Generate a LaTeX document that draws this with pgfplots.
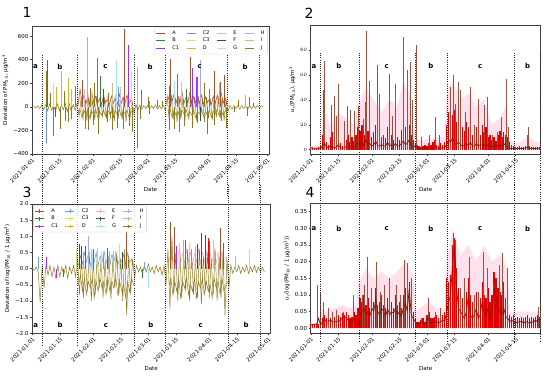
\documentclass[border=0pt]{standalone}
\usepackage{fontspec}
\setmainfont{DejaVu Sans}
\usepackage{pgfplots}
\pgfplotsset{compat=1.18}

\definecolor{cA}{HTML}{A0522D}
\definecolor{cB}{HTML}{3C7A3C}
\definecolor{cCone}{HTML}{9B30FF}
\definecolor{cCtwo}{HTML}{6A9BD0}
\definecolor{cCthree}{HTML}{D4E65A}
\definecolor{cD}{HTML}{DDB020}
\definecolor{cE}{HTML}{F2AFC4}
\definecolor{cF}{HTML}{354F4F}
\definecolor{cG}{HTML}{A8E4EC}
\definecolor{cH}{HTML}{A8A8F0}
\definecolor{cI}{HTML}{C8B88A}
\definecolor{cJ}{HTML}{8E7A1C}
\definecolor{darkline}{HTML}{8B1500}
\definecolor{redfill}{HTML}{E00000}
\definecolor{rosebrown}{HTML}{A0503A}
\definecolor{lightpink}{HTML}{FFE0EC}

\tikzset{
  vl/.style={black!85, line width=0.7pt, dash pattern=on 0.7pt off 1.5pt},
  lab/.style={font=\bfseries\fontsize{7}{7}\selectfont},
}
\pgfplotsset{
  panel/.style={
    scale only axis,
    font=\fontsize{5.5}{6}\selectfont,
    tick label style={font=\fontsize{5.5}{6}\selectfont},
    label style={font=\fontsize{5.5}{6}\selectfont},
    axis line style={black!75, line width=0.6pt},
    tick align=outside,
    major tick length=2pt,
    xtick pos=bottom, ytick pos=left,
    tick style={black!75, line width=0.4pt},
    xtick={0,14,31,45,59,73,90,104,120},
    xticklabels={2021-01-01,2021-01-15,2021-02-01,2021-02-15,2021-03-01,2021-03-15,2021-04-01,2021-04-15,2021-05-01},
    x tick label style={rotate=45, anchor=north east, inner sep=1pt},
    y tick label style={inner sep=1.5pt},
    xlabel={Date},
    xlabel style={yshift=1pt},
    clip=false,
    legend cell align=left,
    legend columns=4,
    legend style={draw=black!20, rounded corners=1.5pt, fill=white, fill opacity=0.85, text opacity=1,
      font=\fontsize{5}{5.5}\selectfont, column sep=5pt, row sep=-1.5pt, inner sep=1pt},
  },
  leg1/.style={legend image code/.code={\draw[##1, line width=0.8pt] (0bp,0bp) -- (9bp,0bp);}},
  leg3/.style={legend image code/.code={\draw[##1, line width=0.8pt] (0bp,0bp) -- (9bp,0bp); \draw[##1, line width=0.4pt] (4.5bp,-1.8bp) -- (4.5bp,1.8bp);}},
  spk/.style={ycomb, line width=0.6pt, forget plot},
  nz/.style={line width=0.5pt, forget plot},
}
\newcommand{\LegAll}{%
 \addlegendimage{cA}\addlegendentry{A}
 \addlegendimage{cCtwo}\addlegendentry{C2}
 \addlegendimage{cE}\addlegendentry{E}
 \addlegendimage{cH}\addlegendentry{H}
 \addlegendimage{cB}\addlegendentry{B}
 \addlegendimage{cCthree}\addlegendentry{C3}
 \addlegendimage{cF}\addlegendentry{F}
 \addlegendimage{cI}\addlegendentry{I}
 \addlegendimage{cCone}\addlegendentry{C1}
 \addlegendimage{cD}\addlegendentry{D}
 \addlegendimage{cG}\addlegendentry{G}
 \addlegendimage{cJ}\addlegendentry{J}}

\begin{document}
\begin{tikzpicture}
\path[use as bounding box] (0,0) rectangle (550bp,-378bp);

% ---------------- Panel 1 ----------------
\begin{axis}[panel, leg1, at={(32bp,-26bp)}, anchor=north west, width=237bp, height=128bp,
  xmin=0, xmax=120.9, ymin=-400, ymax=685,
  ytick={-400,-200,0,200,400,600}, yticklabels={−400,−200,0,200,400,600},
  ylabel={Deviation of PM\textsubscript{2.5}, µg/m\textsuperscript{3}},
  legend style={at={(rel axis cs:0.995,0.99)}, anchor=north east}]
\addplot[nz, cE] coordinates {
(23.5,10)(24.5,90)(25.5,30)(26.5,70)(27.5,20)(28.5,110)(29.5,40)(30.5,60)(31.5,20)(32.5,80)(33.5,30)(34.5,60)(35.5,20)(36.5,70)(37.5,30)(38.5,90)(39.5,20)(40.5,60)(41.5,40)(42.5,100)(43.5,20)(44.5,60)(45.5,30)(46.5,80)(47.5,20)(48.5,70)(49.5,40)(50.5,50)(51.5,10)};
\addplot[nz, cE] coordinates {
(69.5,30)(70.5,80)(71.5,20)(72.5,100)(73.5,40)(74.5,70)(75.5,20)(76.5,90)(77.5,30)(78.5,60)(79.5,20)(80.5,80)(81.5,40)(82.5,70)(83.5,20)(84.5,100)(85.5,30)(86.5,60)(87.5,20)(88.5,90)(89.5,30)(90.5,70)(91.5,20)(92.5,60)(93.5,40)(94.5,80)(95.5,20)(96.5,60)(97.5,30)(98.5,70)(99.5,10)};
\addplot[nz, cJ] coordinates {
(1,5)(2,-10)(3,8)(4,-15)(5,15)(6,-25)(7,20)(8,-35)(9,25)(10,-30)(11,15)(12,-40)(13,25)(14,-35)(15,20)(16,-25)(17,30)(18,-40)(19,25)(20,-35)(21,20)(22,-30)(23,30)
(24,-80)(25,60)(26,-100)(27,70)(28,-120)(29,80)(30,-90)(31,60)(32,-110)(33,90)(34,-130)(35,70)(36,-80)(37,60)(38,-100)(39,80)(40,-90)(41,70)(42,-120)(43,90)(44,-100)(45,60)(46,-110)(47,100)(48,-130)(49,80)(50,-100)(51,60)(52,-60)
(53,20)(54,-30)(55,15)(56,-20)(57,10)(58,-15)(59,12)(60,-20)(61,10)(62,-15)(63,15)(64,-20)(65,10)(66,-15)(67,12)(68,-30)
(69,90)(70,-120)(71,100)(72,-110)(73,80)(74,-130)(75,90)(76,-100)(77,70)(78,-120)(79,90)(80,-110)(81,100)(82,-90)(83,80)(84,-120)(85,90)(86,-100)(87,70)(88,-130)(89,80)(90,-100)(91,60)(92,-110)(93,90)(94,-90)(95,70)(96,-100)(97,80)(98,-120)(99,60)(100,-40)
(101,15)(102,-20)(103,10)(104,-15)(105,12)(106,-20)(107,10)(108,-15)(109,8)(110,-25)(111,10)(112,-15)(113,8)(114,-12)(115,10)(116,-10)(117,8)(118,-5)};
\addplot[nz, cJ] coordinates {
(23.5,-40)(24.5,-20)(25.5,-90)(26.5,-30)(27.5,-70)(28.5,-20)(29.5,-100)(30.5,-40)(31.5,-60)(32.5,-20)(33.5,-90)(34.5,-40)(35.5,-70)(36.5,-30)(37.5,-80)(38.5,-20)(39.5,-60)(40.5,-40)(41.5,-90)(42.5,-30)(43.5,-70)(44.5,-20)(45.5,-80)(46.5,-40)(47.5,-60)(48.5,-30)(49.5,-90)(50.5,-40)(51.5,-30)};
\addplot[nz, cJ] coordinates {
(69.5,-50)(70.5,-20)(71.5,-90)(72.5,-30)(73.5,-70)(74.5,-40)(75.5,-100)(76.5,-30)(77.5,-60)(78.5,-20)(79.5,-80)(80.5,-40)(81.5,-70)(82.5,-30)(83.5,-90)(84.5,-40)(85.5,-60)(86.5,-20)(87.5,-80)(88.5,-40)(89.5,-70)(90.5,-30)(91.5,-90)(92.5,-40)(93.5,-60)(94.5,-20)(95.5,-80)(96.5,-30)(97.5,-70)(98.5,-40)(99.5,-20)};
\addplot[nz, cA] coordinates {
(23.5,20)(24.5,150)(25.5,40)(26.5,100)(27.5,30)(28.5,80)(29.5,20)(30.5,120)(31.5,40)(32.5,90)(33.5,30)(34.5,70)(35.5,20)(36.5,100)(37.5,40)(38.5,60)(39.5,20)(40.5,90)(41.5,30)(42.5,70)(43.5,20)(44.5,110)(45.5,30)(46.5,80)(47.5,40)(48.5,100)(49.5,30)(50.5,60)(51.5,10)};
\addplot[nz, cA] coordinates {
(69.5,60)(70.5,140)(71.5,50)(72.5,110)(73.5,30)(74.5,90)(75.5,40)(76.5,130)(77.5,30)(78.5,80)(79.5,40)(80.5,120)(81.5,30)(82.5,90)(83.5,40)(84.5,70)(85.5,30)(86.5,100)(87.5,20)(88.5,80)(89.5,40)(90.5,60)(91.5,20)(92.5,90)(93.5,30)(94.5,100)(95.5,40)(96.5,120)(97.5,30)(98.5,80)(99.5,10)};
\addplot[spk, cJ] coordinates {(7.5,-310)(11,-250)(14.4,-190)(17,-120)(18.6,-130)(20,-100)(27.2,-190)(28.9,-200)(31.5,-150)(34,-230)(38.3,-130)(40.9,-200)(43.4,-180)(46.8,-190)(49.4,-160)(51,-210)(53.7,-350)(55.4,-100)(60,-60)(69.9,-200)(72.5,-190)(75,-210)(77.6,-160)(81.9,-180)(84.4,-140)(89.5,-230)(93,-150)(96.4,-120)(99,-180)(110,-80)(103,-40)};
\addplot[spk, cJ] coordinates {(7.5,300)(9.2,120)(16.4,130)(22,180)(29.7,160)(31.8,200)(33.2,410)(39.1,120)(69.9,180)(74.2,280)(84.4,250)(87.9,200)(90.4,150)(56,140)(59.5,80)(64,60)(66.5,50)(105,60)(113,30)(111,80)};
\addplot[spk, cA] coordinates {(8,400)(25.5,225)(47.2,660)(70.8,405)(80.7,420)(93,300)(98,270)(96,210)};
\addplot[spk, cB] coordinates {(34.9,260)(78.5,150)(12,-90)};
\addplot[spk, cCone] coordinates {(49.1,520)(81.9,330)(84,250)};
\addplot[spk, cCtwo] coordinates {(7.2,-300)(43.8,170)(60,50)};
\addplot[spk, cCthree] coordinates {(11,200)(50.8,300)(30.5,150)};
\addplot[spk, cD] coordinates {(14.9,300)(12.6,170)(53.7,340)(109,100)(18.6,240)};
\addplot[spk, cE] coordinates {(28,220)(45.1,170)(76,210)(26.5,150)};
\addplot[spk, cF] coordinates {(36.6,150)(86,-120)};
\addplot[spk, cG] coordinates {(43.1,400)(72.5,220)};
\addplot[spk, cH] coordinates {(28.4,590)(85.8,400)};
\addplot[spk, cI] coordinates {(20.3,150)(40.9,200)(95.6,200)};
\LegAll
\pgfplotsinvokeforeach{5.2,22.9,52.1,67.9,99.8,116}{\draw[vl] (axis cs:#1,439) -- (axis cs:#1,-760);}
\node[lab] at (axis cs:1.8,340) {a};
\node[lab] at (axis cs:14.2,340) {b};
\node[lab] at (axis cs:37.5,340) {c};
\node[lab] at (axis cs:60.3,340) {b};
\node[lab] at (axis cs:85.6,340) {c};
\node[lab] at (axis cs:108.7,340) {b};
\end{axis}

% ---------------- Panel 2 ----------------
\begin{axis}[panel, at={(310.7bp,-25bp)}, anchor=north west, width=230bp, height=129.3bp,
  xmin=0, xmax=116.7, ymin=-3.7, ymax=100,
  ytick={0,20,40,60,80},
  ylabel={\textit{u}\textsubscript{\textit{c}}(PM\textsubscript{2.5}), µg/m\textsuperscript{3}}]
\addplot[fill=lightpink, draw=none, forget plot] coordinates {
(0,3)(4,3)(5,10)(7,30)(10,20)(14,30)(18,25)(22,20)(24,35)(28,50)(32,40)(36,30)(40,40)(44,35)(47,55)(50,45)(52,20)(54,8)(60,8)(64,10)(68,10)(69,45)(72,55)(76,40)(80,45)(84,35)(88,40)(92,20)(96,25)(99,35)(101,8)(105,5)(110,10)(116.5,5)} \closedcycle;
\addplot[spk, redfill, line width=1.3pt] coordinates {
(0,1.5)(1,1.5)(2,1.2)(3,1.5)(4,1.8)(5,3)(6,12)(7,18)(8,6)(9,4)(10,10)(11,14)(12,6)(13,8)(14,15)(15,5)(16,3)(17,4)(18,8)(19,12)(20,6)(21,10)(22,7)(23,12)(24,18)(25,15)(26,20)(27,12)(28,25)(29,15)(30,18)(31,10)(32,14)(33,20)(34,12)(35,8)(36,10)(37,12)(38,9)(39,18)(40,10)(41,12)(42,8)(43,14)(44,10)(45,8)(46,16)(47,22)(48,18)(49,15)(50,20)(51,12)(52,8)(53,5)(54,4)(55,3)(56,2)(57,3)(58,4)(59,3)(60,5)(61,4)(62,6)(63,8)(64,4)(65,3)(66,5)(67,4)(68,6)(69,20)(70,30)(71,35)(72,28)(73,32)(74,22)(75,30)(76,25)(77,18)(78,15)(79,22)(80,18)(81,25)(82,12)(83,14)(84,18)(85,16)(86,12)(87,20)(88,14)(89,18)(90,10)(91,12)(92,8)(93,10)(94,7)(95,12)(96,15)(97,10)(98,14)(99,12)(100,10)(101,6)(102,4)(103,3)(104,2)(105,2)(106,3)(107,2)(108,2)(109,3)(110,5)(111,3)(112,2)(113,2)(114,2)(115,2)(116,2)};
\addplot[spk, rosebrown, line width=0.8pt] coordinates {
(6.4,48)(7.2,71)(10.6,36)(11.8,43)(12.8,27)(14,53)(17.3,23)(18.7,35)(20.2,32)(22.4,31)(24,35)(26.6,25)(27.7,38)(28.4,95)(29.6,55)(33.6,68)(34.9,45)(39.7,61)(41.2,27)(43,53)(47.2,90)(48.9,64)(50.6,70)(51.8,40)(53.8,84)(56,10)(60.2,12)(63.2,26)(65.5,12)(71,50)(72.4,60)(73.6,37)(75,54)(76.1,48)(78.7,30)(81.2,50)(82.9,20)(84.9,41)(87.9,36)(89.6,42)(92.1,12)(94.6,14)(96.6,26)(99.2,57)(100.5,18)(109.7,12)(110.6,18)};
\addplot[darkline, line width=0.7pt, forget plot] coordinates {
(0,1.5)(1,1.5)(2,1.2)(3,1.0)(4,1.5)(5,0.8)(6,3)(7,5)(8,2)(9,1.5)(10,3)(11,2)(12,1.5)(13,2)(14,4)(15,1.5)(16,1)(17,1.5)(18,2.5)(19,3)(20,2)(21,2.5)(22,2)(23,3)(24,5)(25,4)(26,6)(27,3)(28,8)(29,4)(30,5)(31,3)(32,4)(33,7)(34,3)(35,3)(36,4)(37,3)(38,3)(39,6)(40,3)(41,4)(42,3)(43,5)(44,3)(45,3)(46,5)(47,7)(48,4)(49,5)(50,8)(51,3)(52,2)(53,3)(54,1.5)(55,1)(56,1)(57,1.5)(58,1.2)(59,1)(60,2)(61,1.5)(62,1)(63,3)(64,1.5)(65,1)(66,1.5)(67,1.2)(68,2)(69,4)(70,8)(71,6)(72,10)(73,5)(74,4)(75,6)(76,4)(77,3)(78,4)(79,5)(80,3)(81,6)(82,3)(83,3)(84,5)(85,3)(86,4)(87,4)(88,3)(89,5)(90,3)(91,3)(92,2)(93,3)(94,2)(95,3)(96,4)(97,3)(98,5)(99,3)(100,2)(101,1)(102,1)(103,0.8)(104,0.8)(105,1)(106,0.8)(107,1)(108,1)(109,1.2)(110,2)(111,1)(112,0.8)(113,1)(114,1)(115,1)(116,1.5)};
\pgfplotsinvokeforeach{4.8,24.8,53,69.3,103.3,116.7}{\draw[vl] (axis cs:#1,77.6) -- (axis cs:#1,-32);}
\node[lab] at (axis cs:1.7,67) {a};
\node[lab] at (axis cs:14.3,67) {b};
\node[lab] at (axis cs:38.5,67) {c};
\node[lab] at (axis cs:61,67) {b};
\node[lab] at (axis cs:86,67) {c};
\node[lab] at (axis cs:110,67) {b};
\end{axis}

% ---------------- Panel 3 ----------------
\begin{axis}[panel, leg3, at={(32.3bp,-204bp)}, anchor=north west, width=237.7bp, height=129.3bp,
  xmin=0, xmax=120.9, ymin=-2, ymax=2,
  ytick={-2,-1.5,-1,-0.5,0,0.5,1,1.5,2}, yticklabels={−2.0,−1.5,−1.0,−0.5,0.0,0.5,1.0,1.5,2.0},
  ylabel={Deviation of log(PM\textsubscript{10} / 1 µg/m\textsuperscript{3})},
  legend style={at={(rel axis cs:0.005,0.99)}, anchor=north west}]
\addplot[nz, cCtwo] coordinates {
(23.5,0.1)(24.5,0.4)(25.5,0.15)(26.5,0.5)(27.5,0.2)(28.5,0.45)(29.5,0.1)(30.5,0.35)(31.5,0.2)(32.5,0.5)(33.5,0.1)(34.5,0.4)(35.5,0.2)(36.5,0.55)(37.5,0.15)(38.5,0.4)(39.5,0.1)(40.5,0.45)(41.5,0.2)(42.5,0.5)(43.5,0.1)(44.5,0.35)(45.5,0.2)(46.5,0.45)(47.5,0.1)(48.5,0.5)(49.5,0.2)(50.5,0.3)(51.5,0.05)};
\addplot[nz, cE] coordinates {
(69.5,0.2)(70.5,0.6)(71.5,0.2)(72.5,0.5)(73.5,0.1)(74.5,0.55)(75.5,0.2)(76.5,0.45)(77.5,0.15)(78.5,0.6)(79.5,0.2)(80.5,0.5)(81.5,0.1)(82.5,0.45)(83.5,0.2)(84.5,0.6)(85.5,0.15)(86.5,0.5)(87.5,0.2)(88.5,0.55)(89.5,0.1)(90.5,0.45)(91.5,0.2)(92.5,0.6)(93.5,0.15)(94.5,0.5)(95.5,0.2)(96.5,0.55)(97.5,0.1)(98.5,0.4)(99.5,0.05)};
\addplot[nz, cJ] coordinates {
(0,0)(1,-0.05)(2,0.05)(3,-0.1)(4,-1.05)(5,0.1)(6,-0.6)(7,0.15)(8,-0.2)(9,0.1)(10,-0.25)(11,0.05)(12,-0.3)(13,0.1)(14,-0.25)(15,0.05)(16,-0.2)(17,0.1)(18,-0.3)(19,0.05)(20,-0.15)(21,0.1)(22,-0.25)(23,0.3)
(24,-0.8)(25,0.4)(26,-0.9)(27,0.3)(28,-0.7)(29,0.5)(30,-1.0)(31,0.2)(32,-0.8)(33,0.4)(34,-0.6)(35,0.3)(36,-0.9)(37,0.2)(38,-0.7)(39,0.4)(40,-0.95)(41,0.3)(42,-0.6)(43,0.5)(44,-0.85)(45,0.3)(46,-1.0)(47,0.6)(48,-1.45)(49,0.4)(50,-0.8)(51,0.3)(52,-0.3)
(53,0.1)(54,-0.1)(55,0.05)(56,-0.15)(57,0.1)(58,-0.1)(59,0.15)(60,-0.1)(61,0.05)(62,-0.15)(63,0.1)(64,-0.1)(65,0.05)(66,-0.2)(67,0.1)(68,-0.5)
(69,0.6)(70,-1.25)(71,1.0)(72,-0.8)(73,0.5)(74,-1.0)(75,0.7)(76,-0.9)(77,0.4)(78,-0.7)(79,0.6)(80,-1.0)(81,0.5)(82,-0.8)(83,0.3)(84,-0.9)(85,0.6)(86,-1.1)(87,0.4)(88,-0.7)(89,0.5)(90,-0.9)(91,0.3)(92,-0.8)(93,0.6)(94,-1.0)(95,0.4)(96,-0.9)(97,0.5)(98,-1.45)(99,0.3)(100,-0.6)
(101,0.1)(102,-0.15)(103,0.05)(104,-0.1)(105,0.1)(106,-0.15)(107,0.05)(108,-0.1)(109,0.1)(110,-0.15)(111,0.05)(112,-0.1)(113,0.1)(114,-0.12)(115,0.05)(116,-0.1)(117,0.05)(118,-0.1)};
\addplot[nz, cJ] coordinates {
(23.5,-0.5)(24.5,-0.2)(25.5,-0.7)(26.5,-0.3)(27.5,-0.8)(28.5,-0.4)(29.5,-0.6)(30.5,-0.3)(31.5,-0.9)(32.5,-0.4)(33.5,-0.7)(34.5,-0.3)(35.5,-0.6)(36.5,-0.4)(37.5,-0.8)(38.5,-0.3)(39.5,-0.7)(40.5,-0.4)(41.5,-0.6)(42.5,-0.3)(43.5,-0.8)(44.5,-0.4)(45.5,-0.7)(46.5,-0.5)(47.5,-0.9)(48.5,-0.4)(49.5,-0.7)(50.5,-0.3)(51.5,-0.5)};
\addplot[nz, cJ] coordinates {
(69.5,-0.5)(70.5,-0.3)(71.5,-0.8)(72.5,-0.4)(73.5,-0.7)(74.5,-0.3)(75.5,-0.9)(76.5,-0.4)(77.5,-0.6)(78.5,-0.3)(79.5,-0.8)(80.5,-0.5)(81.5,-0.7)(82.5,-0.3)(83.5,-0.9)(84.5,-0.4)(85.5,-0.6)(86.5,-0.3)(87.5,-0.8)(88.5,-0.4)(89.5,-0.7)(90.5,-0.5)(91.5,-0.9)(92.5,-0.3)(93.5,-0.6)(94.5,-0.4)(95.5,-0.8)(96.5,-0.3)(97.5,-0.7)(98.5,-0.5)(99.5,-0.4)};
\addplot[spk, cA] coordinates {(48,1.15)(70,1.45)(72,1.3)(95.5,1.25)(27,0.7)(31,0.6)(38,0.65)(78,0.9)};
\addplot[spk, red] coordinates {(24,0.75)(25,0.7)(86,1.1)(88,1.05)(89.5,0.95)};
\addplot[spk, cH] coordinates {(28.4,1.0)(77,0.9)};
\addplot[spk, cE] coordinates {(30,0.6)(33,0.65)(80,0.8)(92,0.9)(42,0.55)};
\addplot[spk, cCtwo] coordinates {(3,0.35)(36,0.45)(57,0.2)(81,0.6)};
\addplot[spk, cCthree] coordinates {(22.5,0.6)(44,0.75)(110.6,0.6)(75,0.8)};
\addplot[spk, cD] coordinates {(26,0.5)(39,0.55)(83,0.7)};
\addplot[spk, cG] coordinates {(59,-0.6)(30.5,0.5)(35,0.55)};
\addplot[spk, cB] coordinates {(56,-0.3)(90,0.85)};
\addplot[spk, cCone] coordinates {(7,0.35)(12,-0.3)(16,-0.25)(73,0.7)(97,0.8)};
\addplot[spk, cI] coordinates {(41,0.55)(103,0.4)};
\addplot[spk, cF] coordinates {(46,0.5)(84,0.75)};
\LegAll
\pgfplotsinvokeforeach{5.2,22.9,52.1,67.9,99.8,116}{\draw[vl] (axis cs:#1,2.6) -- (axis cs:#1,-2.36);}
\node[lab] at (axis cs:1.8,-1.75) {a};
\node[lab] at (axis cs:14.2,-1.75) {b};
\node[lab] at (axis cs:37.5,-1.75) {c};
\node[lab] at (axis cs:60.3,-1.75) {b};
\node[lab] at (axis cs:85.6,-1.75) {c};
\node[lab] at (axis cs:108.7,-1.75) {b};
\end{axis}

% ---------------- Panel 4 ----------------
\begin{axis}[panel, at={(310.7bp,-203.3bp)}, anchor=north west, width=230bp, height=130bp,
  xmin=0, xmax=116.7, ymin=-0.015, ymax=0.375,
  ytick={0,0.05,0.1,0.15,0.2,0.25,0.3,0.35}, yticklabels={0.00,0.05,0.10,0.15,0.20,0.25,0.30,0.35},
  ylabel={\textit{u}\textsubscript{\textit{c}}(log(PM\textsubscript{10} / 1 µg/m\textsuperscript{3}))}]
\addplot[fill=lightpink, draw=none, forget plot] coordinates {
(0,0.015)(4,0.015)(5,0.06)(8,0.05)(12,0.06)(16,0.07)(20,0.06)(23,0.07)(24,0.13)(28,0.18)(32,0.15)(36,0.17)(40,0.15)(44,0.17)(48,0.2)(52,0.16)(53,0.05)(60,0.08)(64,0.06)(68,0.06)(69,0.2)(72,0.3)(76,0.22)(80,0.25)(84,0.2)(88,0.25)(92,0.2)(96,0.22)(100,0.18)(101,0.05)(108,0.05)(116.5,0.05)} \closedcycle;
\addplot[spk, redfill, line width=1.3pt] coordinates {
(0,0.012)(1,0.012)(2,0.012)(3,0.012)(4,0.012)(5,0.025)(6,0.03)(7,0.04)(8,0.03)(9,0.035)(10,0.03)(11,0.04)(12,0.035)(13,0.03)(14,0.04)(15,0.035)(16,0.045)(17,0.04)(18,0.05)(19,0.04)(20,0.03)(21,0.035)(22,0.05)(23,0.04)
(24,0.06)(25,0.09)(26,0.08)(27,0.1)(28,0.07)(29,0.09)(30,0.06)(31,0.1)(32,0.08)(33,0.12)(34,0.07)(35,0.08)(36,0.1)(37,0.07)(38,0.06)(39,0.09)(40,0.07)(41,0.08)(42,0.06)(43,0.1)(44,0.07)(45,0.08)(46,0.06)(47,0.1)(48,0.12)(49,0.08)(50,0.14)(51,0.07)(52,0.05)
(53,0.03)(54,0.02)(55,0.02)(56,0.025)(57,0.03)(58,0.02)(59,0.04)(60,0.05)(61,0.03)(62,0.03)(63,0.035)(64,0.04)(65,0.03)(66,0.035)(67,0.04)(68,0.05)
(69,0.15)(70,0.14)(71,0.16)(72,0.25)(73,0.27)(74,0.18)(75,0.12)(76,0.1)(77,0.09)(78,0.12)(79,0.11)(80,0.15)(81,0.1)(82,0.08)(83,0.09)(84,0.11)(85,0.07)(86,0.09)(87,0.14)(88,0.1)(89,0.09)(90,0.12)(91,0.08)(92,0.1)(93,0.17)(94,0.15)(95,0.12)(96,0.11)(97,0.1)(98,0.14)(99,0.09)(100,0.07)
(101,0.04)(102,0.035)(103,0.04)(104,0.03)(105,0.035)(106,0.03)(107,0.035)(108,0.03)(109,0.035)(110,0.04)(111,0.03)(112,0.035)(113,0.03)(114,0.035)(115,0.04)(116,0.035)};
\addplot[spk, rosebrown, line width=0.8pt] coordinates {
(3.4,0.13)(5,0.11)(6.4,0.08)(8.9,0.06)(10.9,0.05)(13.1,0.055)(16.5,0.05)(21.8,0.10)(26,0.10)(27.4,0.13)(28.7,0.215)(30.8,0.12)(33.3,0.20)(35.5,0.11)(37.5,0.13)(40,0.15)(43.4,0.13)(45.4,0.10)(47.6,0.205)(49.2,0.195)(50.9,0.15)(56,0.03)(59.7,0.09)(63.5,0.05)(66,0.06)(72.3,0.285)(73.6,0.265)(76.1,0.12)(78.2,0.15)(80.3,0.215)(82.9,0.10)(84.9,0.11)(87.6,0.23)(89.6,0.18)(92.9,0.13)(95.5,0.19)(97.1,0.225)(99.7,0.18)(115.6,0.065)};
\addplot[darkline, line width=0.7pt, forget plot] coordinates {
(0,0.012)(1,0.012)(2,0.012)(3,0.013)(4,0.03)(5,0.01)(6,0.02)(7,0.03)(8,0.018)(9,0.02)(10,0.025)(11,0.02)(12,0.018)(13,0.022)(14,0.02)(15,0.025)(16,0.03)(17,0.035)(18,0.03)(19,0.025)(20,0.02)(21,0.015)(22,0.03)(23,0.02)(24,0.015)(25,0.04)(26,0.05)(27,0.06)(28,0.04)(29,0.05)(30,0.035)(31,0.06)(32,0.05)(33,0.09)(34,0.05)(35,0.04)(36,0.06)(37,0.05)(38,0.035)(39,0.06)(40,0.04)(41,0.05)(42,0.045)(43,0.06)(44,0.04)(45,0.05)(46,0.035)(47,0.06)(48,0.08)(49,0.05)(50,0.12)(51,0.04)(52,0.03)(53,0.02)(54,0.015)(55,0.012)(56,0.015)(57,0.02)(58,0.015)(59,0.025)(60,0.03)(61,0.015)(62,0.02)(63,0.018)(64,0.02)(65,0.015)(66,0.02)(67,0.025)(68,0.02)(69,0.05)(70,0.08)(71,0.1)(72,0.2)(73,0.25)(74,0.12)(75,0.06)(76,0.05)(77,0.04)(78,0.03)(79,0.05)(80,0.1)(81,0.04)(82,0.03)(83,0.04)(84,0.06)(85,0.03)(86,0.04)(87,0.08)(88,0.05)(89,0.04)(90,0.06)(91,0.03)(92,0.04)(93,0.12)(94,0.1)(95,0.06)(96,0.05)(97,0.04)(98,0.06)(99,0.035)(100,0.03)(101,0.02)(102,0.025)(103,0.018)(104,0.015)(105,0.02)(106,0.018)(107,0.022)(108,0.015)(109,0.02)(110,0.018)(111,0.015)(112,0.02)(113,0.018)(114,0.025)(115,0.02)(116,0.03)};
\pgfplotsinvokeforeach{4.8,24.8,53,69.3,103.3,116.7}{\draw[vl] (axis cs:#1,0.43) -- (axis cs:#1,-0.041);}
\node[lab] at (axis cs:1.7,0.298) {a};
\node[lab] at (axis cs:14.3,0.298) {b};
\node[lab] at (axis cs:38.5,0.298) {c};
\node[lab] at (axis cs:61,0.298) {b};
\node[lab] at (axis cs:86,0.298) {c};
\node[lab] at (axis cs:110,0.298) {b};
\end{axis}

\node[font=\fontsize{14}{14}\selectfont] at (27bp,-12bp) {1};
\node[font=\fontsize{14}{14}\selectfont] at (309bp,-13bp) {2};
\node[font=\fontsize{14}{14}\selectfont] at (27bp,-192bp) {3};
\node[font=\fontsize{14}{14}\selectfont] at (310bp,-192bp) {4};
\end{tikzpicture}
\end{document}
